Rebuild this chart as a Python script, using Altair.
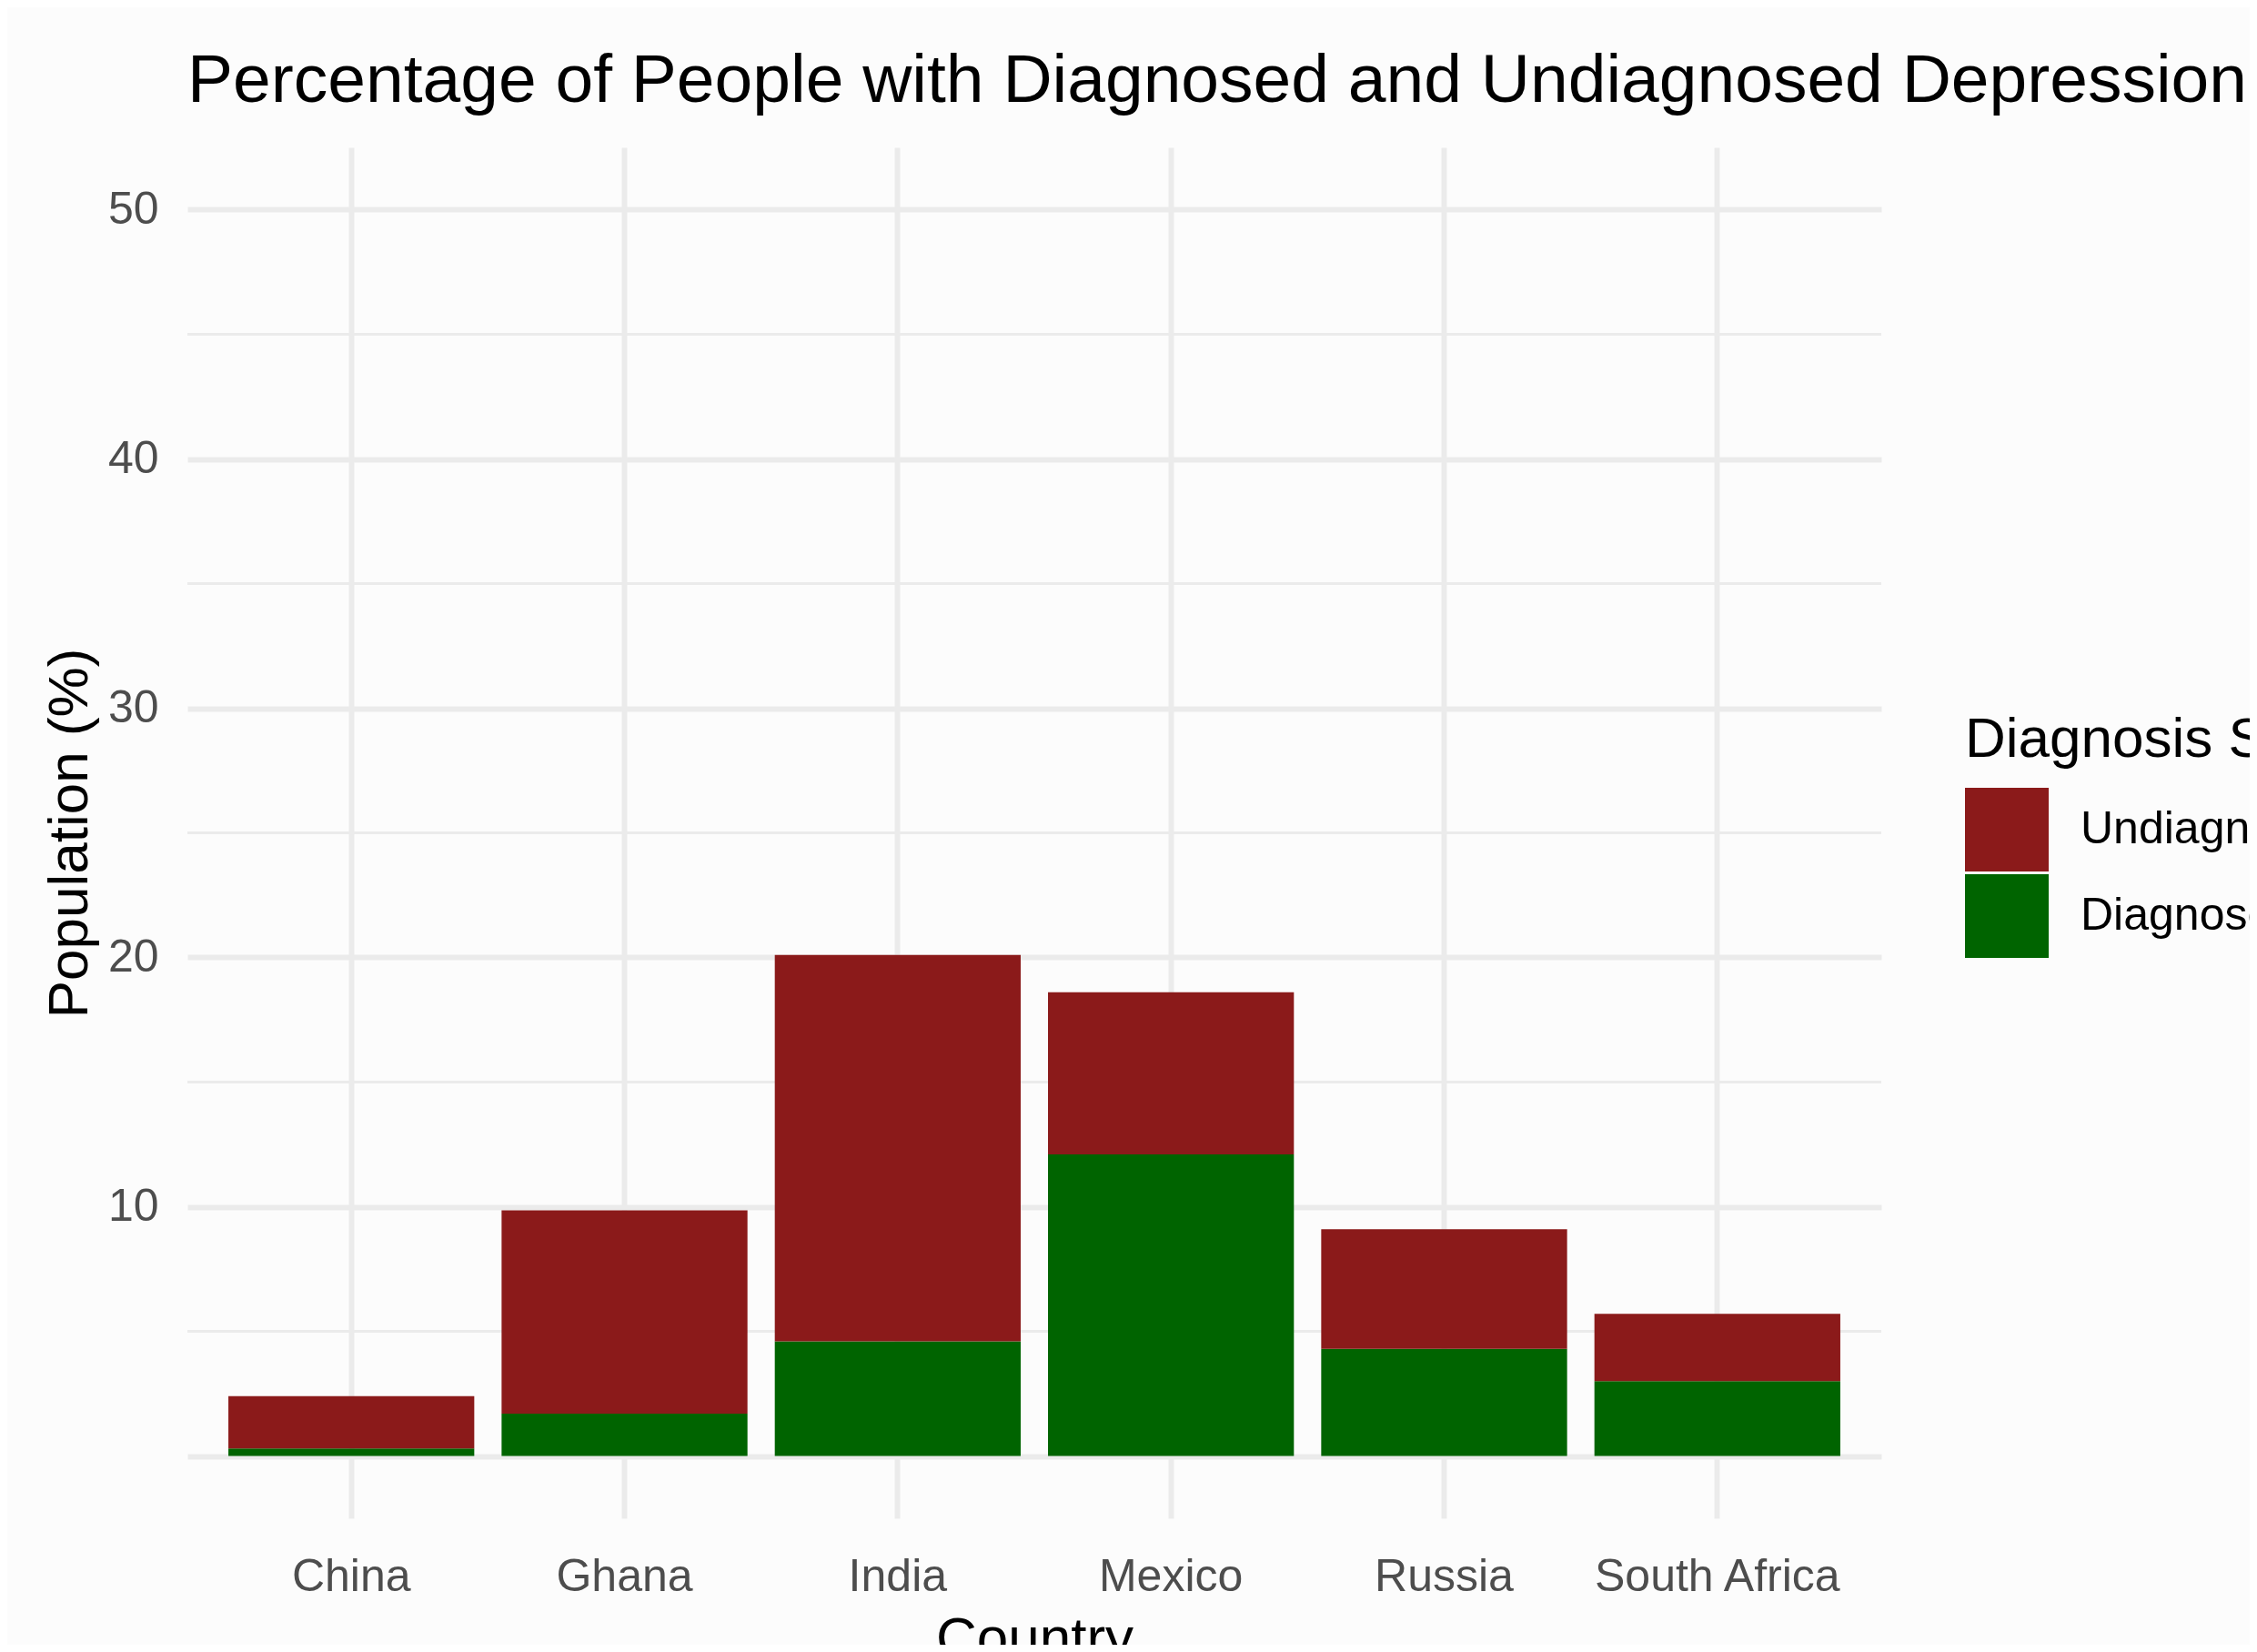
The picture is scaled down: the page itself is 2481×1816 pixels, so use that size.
import altair as alt
import pandas as pd

countries = ["China", "Ghana", "India", "Mexico", "Russia", "South Africa"]
diagnosed = [0.3, 1.7, 4.6, 12.1, 4.3, 3.0]
undiagnosed = [2.1, 8.15, 15.5, 6.5, 4.8, 2.7]
status_labels = ["Undiagnosed", "Diagnosed"]
status_colors = ["#8B1A1A", "#006400"]
y_ticks = [0, 10, 20, 30, 40, 50]
y_minor = [5, 15, 25, 35, 45]

rows = []
for c, d, u in zip(countries, diagnosed, undiagnosed):
    rows.append({"Country": c, "Status": "Diagnosed", "Value": d, "ord": 0})
    rows.append({"Country": c, "Status": "Undiagnosed", "Value": u, "ord": 1})
df = pd.DataFrame(rows)
minor_df = pd.DataFrame({"Value": y_minor})

FONT = "Liberation Sans"
W, H = 1862, 1507
PAD_L, PAD_T = 198, 154
ydom = [-2.5, 52.5]
yscale = alt.Scale(domain=ydom, nice=False, zero=False)

yaxis = alt.Axis(
    title="Population (%)",
    values=y_ticks,
    labelExpr="datum.value == 0 ? '' : datum.label",
    labelFontSize=50,
    labelColor="#4D4D4D",
    labelFont=FONT,
    labelPadding=32,
    labelLimit=0,
    ticks=False,
    tickSize=0,
    domain=False,
    grid=True,
    gridColor="#EBEBEB",
    gridWidth=6,
    titleFontSize=62,
    titleFont=FONT,
    titleFontWeight="normal",
    titleColor="#000000",
    titleX=-130,
    titleY=H / 2,
    titleAngle=270,
    titleAlign="center",
    titleBaseline="middle",
)

minor = alt.Chart(minor_df).mark_rule(color="#EBEBEB", strokeWidth=3).encode(
    y=alt.Y("Value:Q", scale=yscale, axis=yaxis, title="Population (%)")
)

bars = alt.Chart(df).mark_bar().encode(
    x=alt.X(
        "Country:N",
        sort=countries,
        scale=alt.Scale(paddingInner=0.1, paddingOuter=0.15),
        axis=alt.Axis(
            title="Country",
            labelAngle=0,
            labelFontSize=50,
            labelColor="#4D4D4D",
            labelFont=FONT,
            labelPadding=39,
            labelLimit=0,
            ticks=False,
            tickSize=0,
            domain=False,
            grid=True,
            gridColor="#EBEBEB",
            gridWidth=6,
            titleFontSize=62,
            titleFont=FONT,
            titleFontWeight="normal",
            titleColor="#000000",
            titleY=102,
            titleBaseline="top",
        ),
    ),
    y=alt.Y("Value:Q", stack="zero", scale=yscale, axis=yaxis, title="Population (%)"),
    color=alt.Color(
        "Status:N",
        scale=alt.Scale(domain=status_labels, range=status_colors),
        legend=alt.Legend(
            title="Diagnosis Status",
            orient="none",
            legendX=2152 - PAD_L,
            legendY=775 - PAD_T,
            padding=0,
            symbolType="square",
            symbolSize=8464,
            symbolStrokeWidth=0,
            symbolOpacity=1,
            rowPadding=3,
            labelOffset=35,
            labelFontSize=50,
            labelFont=FONT,
            labelColor="#000000",
            labelLimit=0,
            titleLimit=0,
            titleFontSize=62,
            titleFont=FONT,
            titleFontWeight="normal",
            titleColor="#000000",
            titlePadding=21,
        ),
    ),
    order=alt.Order("ord:Q"),
)

chart = alt.layer(minor, bars).properties(
    width=W,
    height=H,
    padding={"left": PAD_L, "top": PAD_T, "right": 405, "bottom": 139},
    autosize=alt.AutoSizeParams(type="none"),
    background="#FCFCFC",
    title=alt.TitleParams(
        "Percentage of People with Diagnosed and Undiagnosed Depression",
        anchor="start",
        frame="group",
        fontSize=75,
        font=FONT,
        fontWeight="normal",
        color="#000000",
        offset=34,
    ),
).configure_view(stroke=None)

chart.save("out.html", embed_options={"renderer": "svg", "actions": False})
